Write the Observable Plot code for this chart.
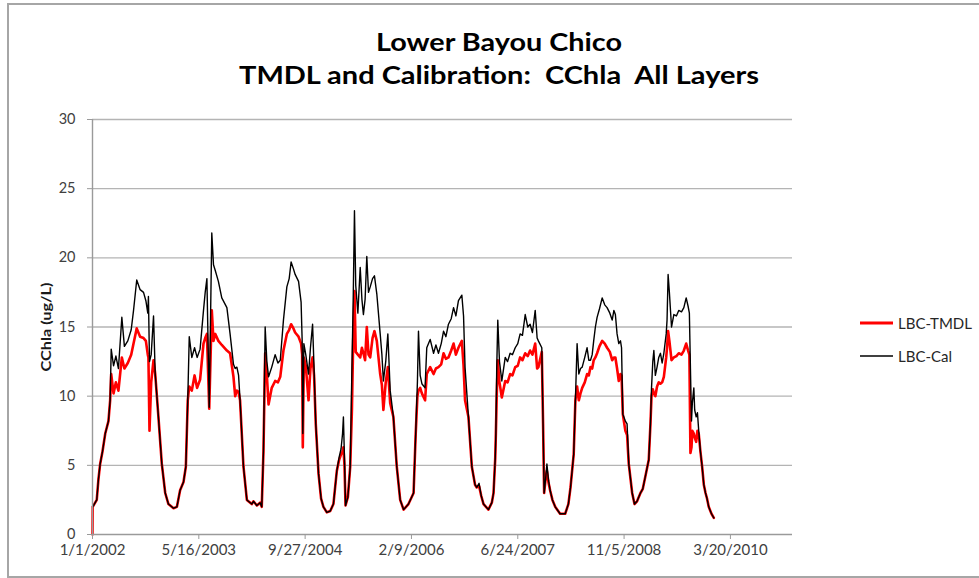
<!DOCTYPE html>
<html>
<head>
<meta charset="utf-8">
<script src="https://cdn.jsdelivr.net/npm/d3@7"></script>
<script src="https://cdn.jsdelivr.net/npm/@observablehq/plot@0.6"></script>
<style>
  body { margin: 0; background: #fff; }
  #wrap { position: relative; width: 979px; height: 578px; overflow: hidden; font-family: Lato, "Open Sans", sans-serif; }
  #frame { position: absolute; left: 7px; top: 3px; width: 1000px; height: 575px; border: 2px solid #a6a6a6; box-sizing: border-box; }
  #chart, #overlay { position: absolute; left: 0; top: 0; }
  #overlay { pointer-events: none; }
</style>
</head>
<body>
<div id="wrap">
  <div id="frame"></div>
  <div id="chart"></div>
  <svg id="overlay" width="979" height="578"></svg>
</div>
<script>
// ---- Text ----
const titleLines = ["Lower Bayou Chico", "TMDL and Calibration:  CChla  All Layers"];
const yAxisTitle = "CChla (ug/L)";
const seriesNames = ["LBC-TMDL", "LBC-Cal"];
const seriesColors = ["#ff0000", "#000000"];

// ---- Axes ----
const startDate = Date.UTC(2002, 0, 1);           // 1/1/2002
const xDomainDays = [0, 3292];                     // days after 1/1/2002
const xTickDays = [0, 500, 1000, 1500, 2000, 2500, 3000];
const xTickLabels = ["1/1/2002", "5/16/2003", "9/27/2004", "2/9/2006", "6/24/2007", "11/5/2008", "3/20/2010"];
const yTicks = [0, 5, 10, 15, 20, 25, 30];

// ---- Data: days after 1/1/2002, CChla (ug/L) for each series ----
const dayOffset = [
  0,1,20,28,36,47,60,75,83,88,99,110,122,138,150,166,182,193,208,224,240,251,260,263,268,276,287,295,
  310,326,342,357,381,397,412,428,439,448,
  455,467,480,492,506,522,530,538,549,561,569,577,592,608,632,647,663,671,679,687,694,
  710,726,749,757,773,788,796,804,
  812,820,828,843,859,872,883,898,914,925,934,945,953,969,981,986,989,994,1003,1016,1025,1035,1042,
  1050,1063,1075,1086,1102,1118,1133,1149,1160,1169,1176,1180,1185,1190,1201,1212,
  1220,1226,1232,1238,1248,1259,1267,1274,1282,1290,1298,1306,1317,1326,1337,1353,1361,1368,1379,1389,1400,
  1415,1431,1447,1463,1486,1510,1520,
  1528,1533,1541,1549,1564,1572,1588,1604,1615,1627,1640,1651,1662,1674,1687,1698,1709,1721,1737,1745,1752,
  1768,1784,1799,1807,1818,1828,1839,1862,1878,1886,1894,1897,
  1901,1906,1914,1925,1941,1952,1964,1975,1988,2000,2011,2022,2035,2047,2058,2069,2082,2091,2097,2113,
  2119,2124,2132,2137,2144,2152,2163,2176,2199,2223,2238,2248,2263,2271,
  2279,2287,2295,2303,2315,2326,2334,2342,2350,2357,2365,2373,2384,2397,2409,2420,2433,2444,2452,2459,2467,2475,2483,2488,
  2494,2506,2514,2522,2538,2549,2561,2577,2588,2600,2616,2624,
  2629,2635,2640,2647,2655,2663,2671,2679,2687,2698,2702,2707,2713,2723,2734,2746,2757,2770,2781,2792,2801,2807,2812,2817,2821,2828,2832,2839,2845,2851,
  2859,2867,2875,2883,2890,2898,2911,2922
];
const tmdlValues = [
  0,2.0,2.5,4.0,5.1,6.0,7.3,8.2,9.7,11.6,10.2,11.0,10.4,12.8,12.0,12.4,13.0,13.8,14.9,14.3,14.2,14.0,13.0,12.8,7.5,11.0,12.6,11.6,
  8.5,5.1,3.0,2.2,1.9,2.0,3.2,3.8,4.9,9.7,
  10.7,10.4,11.5,10.6,11.2,13.8,14.2,14.5,9.1,16.2,14.0,14.5,14.0,13.7,13.3,13.1,11.4,10.0,10.4,10.3,9.7,
  4.9,2.5,2.2,2.4,2.1,2.3,2.0,6.0,
  13.1,11.5,9.4,10.6,11.1,11.0,11.4,13.3,14.5,14.8,15.2,14.9,14.6,14.3,13.8,13.0,6.3,12.8,12.2,9.7,12.0,12.8,11.5,
  8.0,4.4,2.6,2.0,1.6,1.7,2.2,4.6,5.4,5.8,6.0,6.3,5.0,2.1,2.7,4.9,
  9.0,14.0,17.6,13.2,13.0,12.8,13.5,13.1,12.6,15.0,13.0,12.8,14.2,14.7,14.0,11.6,10.8,9.0,11.0,12.1,9.5,
  8.5,4.9,2.5,1.8,2.2,3.0,7.3,
  10.0,10.4,10.6,10.2,9.7,11.6,12.1,11.6,12.0,12.1,12.3,13.1,12.7,12.8,13.3,13.8,13.0,13.5,14.0,12.2,9.7,
  8.5,4.9,3.6,3.4,3.5,2.8,2.2,1.8,2.3,3.0,5.5,7.3,
  10.0,12.6,11.0,9.9,11.1,11.0,11.6,11.5,12.1,12.2,12.8,12.6,13.1,12.9,13.3,13.0,13.8,12.0,12.1,13.2,
  8.0,3.0,4.2,4.6,3.8,3.2,2.5,2.0,1.5,1.5,2.2,3.4,5.8,9.7,
  10.7,9.7,10.2,10.6,11.0,11.6,11.5,12.1,12.0,12.6,12.8,13.1,13.6,14.0,13.8,13.5,13.2,12.6,12.8,12.8,12.0,11.1,11.6,11.5,
  8.7,7.5,7.2,5.1,3.0,2.2,2.4,3.0,3.3,4.2,5.4,8.0,
  10.0,10.5,10.2,10.0,10.7,11.0,10.9,11.0,11.4,12.8,13.5,14.7,14.0,12.6,12.8,12.9,13.1,13.0,13.3,13.8,13.3,13.0,5.9,6.3,7.5,7.3,7.0,6.7,7.5,7.3,
  6.0,4.9,3.6,3.0,2.6,2.0,1.5,1.2
];
const calValues = [
  2.0,2.0,2.5,4.0,5.1,6.0,7.3,8.2,9.7,13.4,12.2,12.9,12.0,15.7,13.6,14.0,14.8,16.2,18.4,17.7,17.5,16.9,16.0,17.2,12.5,13.0,15.8,11.6,
  8.5,5.1,3.0,2.2,1.9,2.0,3.2,3.8,4.9,9.7,
  14.3,12.8,13.5,12.8,13.4,16.2,17.5,18.5,9.2,21.8,19.5,19.1,18.3,17.1,16.4,14.5,12.3,12.0,12.1,11.5,9.7,
  4.9,2.5,2.2,2.4,2.1,2.3,2.0,6.0,
  15.0,12.5,11.4,12.1,13.0,12.4,12.6,15.5,17.9,18.5,19.7,19.2,18.8,18.3,16.8,14.0,7.3,13.8,13.0,11.6,13.5,15.2,12.0,
  8.0,4.4,2.6,2.0,1.6,1.7,2.2,4.6,5.6,6.2,7.3,8.5,5.5,2.1,2.7,4.9,
  12.0,16.9,23.4,18.0,16.0,19.3,17.0,15.9,17.0,20.1,17.5,17.9,18.5,18.7,17.4,14.5,13.0,11.1,12.5,14.5,10.4,
  8.5,4.9,2.5,1.8,2.2,3.0,7.3,
  11.0,14.7,11.5,10.9,10.6,13.5,14.1,13.1,13.7,13.1,13.8,14.7,14.3,15.2,15.6,16.4,15.8,16.9,17.3,15.8,12.1,
  8.5,4.9,3.6,3.4,3.7,2.8,2.2,1.8,2.3,3.0,5.5,7.3,
  12.0,15.5,12.5,11.1,12.8,12.5,13.1,13.0,13.5,13.8,14.5,14.4,15.9,15.0,15.2,14.6,16.2,14.2,14.0,13.5,
  8.0,3.0,4.2,5.1,4.0,3.2,2.5,2.0,1.5,1.5,2.2,3.4,5.8,9.7,
  13.8,11.6,12.0,12.1,12.8,13.5,12.6,12.6,13.0,14.0,15.0,15.7,16.3,17.1,16.6,16.4,16.0,15.5,16.2,15.9,14.5,13.8,14.0,13.5,
  8.7,8.2,8.0,5.1,3.0,2.2,2.4,3.0,3.3,4.2,5.4,8.0,
  10.6,12.5,13.3,11.5,12.1,12.8,13.1,12.4,13.1,14.5,15.5,18.8,17.5,15.0,15.9,15.8,16.2,16.1,16.4,17.1,16.5,16.0,12.0,8.2,9.5,10.6,9.0,8.5,8.8,7.5,
  6.0,4.9,3.6,3.0,2.6,2.0,1.5,1.2
];

if (dayOffset.length !== tmdlValues.length || dayOffset.length !== calValues.length) {
  console.error("length mismatch", dayOffset.length, tmdlValues.length, calValues.length);
}

const toDate = d => new Date(startDate + d * 864e5);
const rows = dayOffset.map((d, i) => ({date: toDate(d), tmdl: tmdlValues[i], cal: calValues[i]}));
const xTickDates = xTickDays.map(toDate);
const labelOf = new Map(xTickDates.map((d, i) => [+d, xTickLabels[i]]));

const gridColor = "#b4b4b4";
const axisColor = "#9a9a9a";
const textColor = "#404040";

const chart = Plot.plot({
  width: 979,
  height: 578,
  marginLeft: 92,
  marginRight: 187,
  marginTop: 119,
  marginBottom: 44,
  style: {fontFamily: "Lato, 'Open Sans', sans-serif", fontSize: "15px", background: "transparent", overflow: "visible"},
  x: {type: "utc", domain: xDomainDays.map(toDate)},
  y: {domain: [yTicks[0], yTicks[yTicks.length - 1]]},
  marks: [
    Plot.ruleY(yTicks.filter(v => v > 0), {stroke: gridColor, strokeWidth: 1.4}),
    Plot.line(rows, {x: "date", y: "tmdl", stroke: seriesColors[0], strokeWidth: 2.6, strokeLinejoin: "round"}),
    Plot.line(rows, {x: "date", y: "cal", stroke: seriesColors[1], strokeWidth: 1.4, strokeLinejoin: "round"}),
    Plot.ruleY([0], {stroke: axisColor, strokeWidth: 1.4}),
    Plot.ruleX([toDate(xDomainDays[0])], {stroke: axisColor, strokeWidth: 1.4}),
    Plot.axisX({ticks: xTickDates, tickSize: 5, tickPadding: 5, tickFormat: d => labelOf.get(+d), stroke: axisColor, fill: textColor, fontSize: 15, label: null}),
    Plot.axisY({ticks: yTicks, tickSize: 5, tickPadding: 12, stroke: axisColor, fill: textColor, fontSize: 14.5, label: null})
  ]
});
document.getElementById("chart").appendChild(chart);

// ---- Title, y-axis title and legend ----
const ov = d3.select("#overlay");
const titleSpec = [{y: 50.5, len: 246}, {y: 84, len: 520}];
titleLines.forEach((t, i) => {
  ov.append("text")
    .attr("x", 499).attr("y", titleSpec[i].y)
    .attr("text-anchor", "middle")
    .attr("xml:space", "preserve")
    .style("white-space", "pre")
    .attr("font-family", "Lato, 'Open Sans', sans-serif")
    .attr("font-weight", "bold")
    .attr("font-size", 25)
    .attr("textLength", titleSpec[i].len)
    .attr("lengthAdjust", "spacingAndGlyphs")
    .attr("fill", "#000")
    .text(t);
});
ov.append("text")
  .attr("transform", "translate(51,327) rotate(-90)")
  .attr("text-anchor", "middle")
  .attr("font-family", "Lato, 'Open Sans', sans-serif")
  .attr("font-weight", "bold")
  .attr("font-size", 14)
  .attr("textLength", 89)
  .attr("lengthAdjust", "spacingAndGlyphs")
  .attr("fill", "#1a1a1a")
  .text(yAxisTitle);

const legendY = [323, 356];
const legendW = [3, 1.5];
seriesNames.forEach((name, i) => {
  ov.append("line")
    .attr("x1", 860).attr("x2", 893)
    .attr("y1", legendY[i]).attr("y2", legendY[i])
    .attr("stroke", seriesColors[i]).attr("stroke-width", legendW[i]);
  ov.append("text")
    .attr("x", 898).attr("y", legendY[i] + 5.5)
    .attr("font-family", "Lato, 'Open Sans', sans-serif")
    .attr("font-size", 15)
    .attr("fill", "#262626")
    .text(name);
});
</script>
</body>
</html>
